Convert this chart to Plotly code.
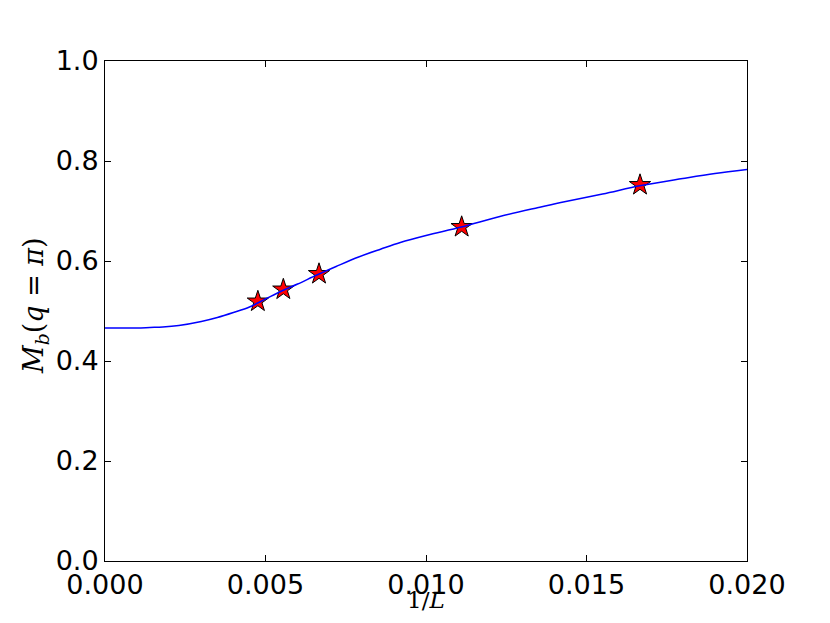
import plotly.graph_objects as go

# Data
inv_L_points = [1/210, 1/180, 1/150, 1/90, 1/60]
mb_points = [0.519, 0.543, 0.574, 0.668, 0.752]

curve_x = [0.0, 0.0005, 0.0010, 0.0014, 0.0018, 0.0023, 0.0030, 0.0035, 0.0040, 0.0045,
           0.0050, 0.0055, 0.0060, 0.0066, 0.0072, 0.0079, 0.0086, 0.0092, 0.0100,
           0.0111, 0.0123, 0.0135, 0.0142, 0.0155, 0.0167, 0.0180, 0.0190, 0.0200]
curve_y = [0.466, 0.466, 0.466, 0.467, 0.468, 0.471, 0.479, 0.487, 0.497, 0.508,
           0.524, 0.540, 0.554, 0.572, 0.589, 0.608, 0.624, 0.637, 0.651,
           0.668, 0.689, 0.707, 0.717, 0.734, 0.751, 0.765, 0.775, 0.783]

x_ticks = [0.0, 0.005, 0.010, 0.015, 0.020]
x_tick_labels = ["0.000", "0.005", "0.010", "0.015", "0.020"]
y_ticks = [0.0, 0.2, 0.4, 0.6, 0.8, 1.0]
y_tick_labels = ["0.0", "0.2", "0.4", "0.6", "0.8", "1.0"]

fig = go.Figure()
fig.add_trace(go.Scatter(x=inv_L_points, y=mb_points, mode="markers",
                         marker=dict(symbol="star", size=16, color="#ff0000",
                                     line=dict(color="black", width=1)),
                         showlegend=False))
fig.add_trace(go.Scatter(x=curve_x, y=curve_y, mode="lines",
                         line=dict(color="#0000ff", width=1.5, shape="spline"),
                         showlegend=False, hoverinfo="skip"))

axis_common = dict(showgrid=False, zeroline=False, showline=True, linecolor="black",
                   linewidth=1, mirror="ticks", ticks="inside", ticklen=6,
                   tickcolor="black", tickfont=dict(family="DejaVu Sans", size=27, color="black"))

fig.update_layout(
    width=814, height=607,
    margin=dict(l=97, r=75, t=53, b=54, pad=0),
    plot_bgcolor="white", paper_bgcolor="white",
    xaxis=dict(range=[0, 0.02], tickvals=x_ticks, ticktext=x_tick_labels, **axis_common),
    yaxis=dict(range=[0, 1.0], tickvals=y_ticks, ticktext=y_tick_labels, **axis_common),
)

fig.add_annotation(text="1/<i>L</i>", xref="paper", yref="paper", x=0.5, y=-0.106,
                   xanchor="center", yanchor="bottom", showarrow=False, borderpad=0,
                   font=dict(family="DejaVu Serif", size=23, color="black"))
fig.add_annotation(text="<i>M</i><sub><i>b</i></sub>(<i>q</i> = <i>π</i>)", xref="paper", yref="paper",
                   x=-0.109, y=0.51, xanchor="center", yanchor="middle", textangle=-90,
                   showarrow=False, font=dict(family="DejaVu Serif", size=27, color="black"))

fig.write_html("out.html")
